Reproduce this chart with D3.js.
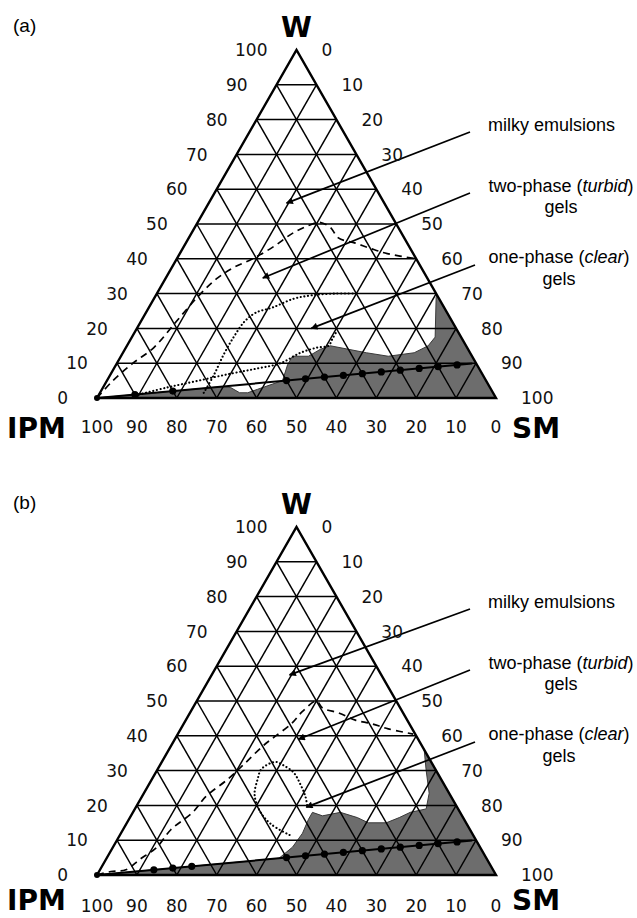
<!DOCTYPE html>
<html>
<head>
<meta charset="utf-8">
<script src="https://cdn.jsdelivr.net/npm/d3@7"></script>
<style>
  body { margin: 0; background: #fff; }
  svg { display: block; }
</style>
</head>
<body>
<svg id="chart" width="637" height="918"></svg>
<script>
// ---- Data: compositions in % as [W, SM]; IPM = 100 - W - SM ----
const tickValues = [0, 10, 20, 30, 40, 50, 60, 70, 80, 90, 100];
const cornerNames = { top: "W", left: "IPM", right: "SM" };
const panelNames = ["(a)", "(b)"];
const regionLabels = ["milky emulsions", "two-phase (turbid) gels", "one-phase (clear) gels"];

// surfactant mixture line: SM:W = 90:10, diluted with IPM
const mixW = 10, mixSM = 90;
const samplesA = [100, 90, 80, 50, 45, 40, 35, 30, 25, 20, 15, 10, 5];      // IPM %
const samplesB = [100, 85, 80, 75, 50, 45, 40, 35, 30, 25, 20, 15, 10, 5];  // IPM %

// (a) shaded region boundary (upper edge), closed along the base
const grayA = [[0, 0], [3.3, 30], [3, 32], [1.5, 35], [1.5, 37], [2.5, 39], [4, 42], [5, 44],
  [9.5, 43], [12, 43], [12, 47], [14, 49], [15, 51], [14, 56], [13, 61], [12, 67], [13, 73],
  [15, 75.5], [17.5, 76], [29, 70.5], [29.5, 70.5], [0, 100]];
// (b) shaded region boundary
const grayB = [[0, 0], [4.8, 43.2], [8, 45], [12, 45.5], [16, 45], [18, 45], [17, 48], [18, 52],
  [16.5, 57], [15, 60.5], [15, 65], [16.5, 67.5], [18, 69.5], [19, 73], [23.5, 71.5],
  [30, 67.5], [36, 64], [0, 100]];

// dashed boundaries
const dashedA = [[0, 0], [5, 1.5], [10, 4], [14.5, 7], [22.5, 9], [30, 11], [34.5, 13], [37.5, 15.5],
  [40, 19], [43.5, 22.5], [47.5, 25.5], [50, 29], [50.5, 30.5], [49, 34], [46, 37.5],
  [44.5, 42.5], [43, 47], [41.5, 52], [40, 60]];
const dashedB = [[0, 0], [1, 3], [1.5, 6.5], [4.5, 8.5], [8, 11], [13, 12], [18, 15], [22.5, 16],
  [27.5, 19], [32, 21], [37, 23], [39.5, 24.5], [43.5, 27], [47, 28], [50, 30], [48, 32.5],
  [46.5, 37.5], [44.5, 42.5], [43.5, 47], [42, 52], [40.5, 59]];

// dotted boundaries
const dottedA1 = [[1, 10], [3, 16], [5, 23], [7, 30], [8.5, 36], [10, 41], [13, 44.5], [14.5, 48],
  [15, 50.5], [17, 50.5], [19, 50.5]];
const dottedA2 = [[1.5, 26], [6.5, 26], [12.5, 25.5], [17.5, 25.5], [22, 26], [24.5, 27.5],
  [26, 31], [28.5, 35], [29.5, 39], [30, 44.5], [30, 50.5]];
const dottedB = [[11.5, 42.5], [14.5, 36.5], [18, 32], [23, 28], [27.5, 26.5], [30.5, 26],
  [32.5, 28.5], [31.5, 31], [29.5, 34.5], [26, 38], [22.5, 41], [19.5, 43]];

// arrow targets inside the diagram: milky, two-phase, one-phase
const arrowTipsA = [[56, 19.5], [34.5, 24.3], [20, 43.7]];
const arrowTipsB = [[57.5, 19.5], [39, 31], [19.5, 42.7]];

// ---- Drawing ----
const svg = d3.select("#chart");
svg.append("rect").attr("width", 637).attr("height", 918).attr("fill", "#fff");

svg.append("defs").append("marker")
  .attr("id", "arrowhead")
  .attr("viewBox", "0 0 10 10")
  .attr("refX", 9).attr("refY", 5)
  .attr("markerUnits", "userSpaceOnUse")
  .attr("markerWidth", 8).attr("markerHeight", 7)
  .attr("orient", "auto")
  .append("path").attr("d", "M0,0 L10,5 L0,10 Z").attr("fill", "#000");

const tickFont = "'DejaVu Sans', Verdana, sans-serif";
const textFont = "'Liberation Sans', Arial, sans-serif";

const panels = [
  { name: panelNames[0], base: 398, numDy: 35, nameDy: 40, gray: grayA, dashed: dashedA,
    dotted: [dottedA1, dottedA2], samples: samplesA, tips: arrowTipsA },
  { name: panelNames[1], base: 875, numDy: 37, nameDy: 35, gray: grayB, dashed: dashedB,
    dotted: [dottedB], samples: samplesB, tips: arrowTipsB }
];

panels.forEach(p => {
  const g = svg.append("g");
  const off = p.base - 398;
  const x = d3.scaleLinear().domain([0, 100]).range([97, 496]);
  const y = d3.scaleLinear().domain([0, 100]).range([p.base, p.base - 348]);
  const pt = ([w, sm]) => [x(sm + w / 2), y(w)];
  const line = d3.line().x(d => pt(d)[0]).y(d => pt(d)[1]);
  const smooth = d3.line().x(d => pt(d)[0]).y(d => pt(d)[1]).curve(d3.curveCatmullRom.alpha(0.5));

  // shaded region
  g.append("path")
    .attr("d", line(p.gray) + "Z")
    .attr("fill", "#6d6d6d")
    .attr("stroke", "#3a3a3a")
    .attr("stroke-width", 1);

  // grid
  const grid = g.append("g").attr("stroke", "#000").attr("stroke-width", 1.5).attr("fill", "none");
  tickValues.slice(1, -1).forEach(k => {
    grid.append("path").attr("d", line([[k, 0], [k, 100 - k]]));
    grid.append("path").attr("d", line([[0, k], [100 - k, k]]));
    grid.append("path").attr("d", line([[0, 100 - k], [100 - k, 0]]));
  });
  g.append("path")
    .attr("d", line([[0, 0], [100, 0], [0, 100]]) + "Z")
    .attr("fill", "none").attr("stroke", "#000").attr("stroke-width", 2.4)
    .attr("stroke-linejoin", "miter");

  // dashed and dotted boundaries
  g.append("path").attr("d", smooth(p.dashed))
    .attr("fill", "none").attr("stroke", "#000").attr("stroke-width", 1.7)
    .attr("stroke-dasharray", "7,5");
  p.dotted.forEach(d => {
    g.append("path").attr("d", smooth(d))
      .attr("fill", "none").attr("stroke", "#000").attr("stroke-width", 2.1)
      .attr("stroke-linecap", "round")
      .attr("stroke-dasharray", "0.1,3.6");
  });

  // dilution line with samples
  const comp = ipm => [mixW * (100 - ipm) / 100, mixSM * (100 - ipm) / 100];
  g.append("path").attr("d", line([comp(100), comp(1)]))
    .attr("stroke", "#000").attr("stroke-width", 2).attr("fill", "none");
  g.selectAll("circle.s").data(p.samples).join("circle")
    .attr("cx", d => pt(comp(d))[0]).attr("cy", d => pt(comp(d))[1])
    .attr("r", d => d === 100 ? 3 : 3.6).attr("fill", "#000");

  // leaders and labels
  const starts = [[470, 132 + off], [470, 193 + off], [475, 265 + off]];
  p.tips.forEach((t, i) => {
    const [tx, ty] = pt(t);
    g.append("line")
      .attr("x1", starts[i][0]).attr("y1", starts[i][1])
      .attr("x2", tx).attr("y2", ty)
      .attr("stroke", "#000").attr("stroke-width", 1.7)
      .attr("marker-end", "url(#arrowhead)");
  });
  const lab = g.append("g").attr("font-family", textFont).attr("font-size", 18).attr("fill", "#000");
  lab.append("text").attr("x", 488).attr("y", 131 + off).text(regionLabels[0]);
  const t2 = lab.append("text").attr("x", 561).attr("y", 192 + off).attr("text-anchor", "middle");
  t2.append("tspan").text("two-phase (");
  t2.append("tspan").attr("font-style", "italic").text("turbid");
  t2.append("tspan").text(")");
  lab.append("text").attr("x", 561).attr("y", 213 + off).attr("text-anchor", "middle").text("gels");
  const t3 = lab.append("text").attr("x", 559).attr("y", 263 + off).attr("text-anchor", "middle");
  t3.append("tspan").text("one-phase (");
  t3.append("tspan").attr("font-style", "italic").text("clear");
  t3.append("tspan").text(")");
  lab.append("text").attr("x", 559).attr("y", 285 + off).attr("text-anchor", "middle").text("gels");

  // tick labels
  const ticksG = g.append("g").attr("font-family", tickFont).attr("font-size", 17).attr("fill", "#111");
  tickValues.forEach(v => {
    const [lx, ly] = pt([v, 0]);
    ticksG.append("text").attr("x", lx - 29).attr("y", ly).attr("dy", "0.36em")
      .attr("text-anchor", "end").text(v);
    const [rx, ry] = pt([100 - v, v]);
    ticksG.append("text").attr("x", rx + 25).attr("y", ry).attr("dy", "0.36em")
      .attr("text-anchor", "start").text(v);
    const [bx] = pt([0, 100 - v]);
    ticksG.append("text").attr("x", bx).attr("y", p.base + p.numDy)
      .attr("text-anchor", "middle").text(v);
  });

  // corner names
  const names = g.append("g").attr("font-family", tickFont).attr("font-weight", "bold")
    .attr("font-size", 28).attr("fill", "#000");
  names.append("text").attr("x", x(50)).attr("y", p.base - 361).attr("text-anchor", "middle").text(cornerNames.top);
  names.append("text").attr("x", 7).attr("y", p.base + p.nameDy).text(cornerNames.left);
  names.append("text").attr("x", 512).attr("y", p.base + p.nameDy).text(cornerNames.right);

  // panel tag
  g.append("text").attr("x", 13).attr("y", p.base - 366)
    .attr("font-family", textFont).attr("font-size", 19).text(p.name);
});
</script>
</body>
</html>
